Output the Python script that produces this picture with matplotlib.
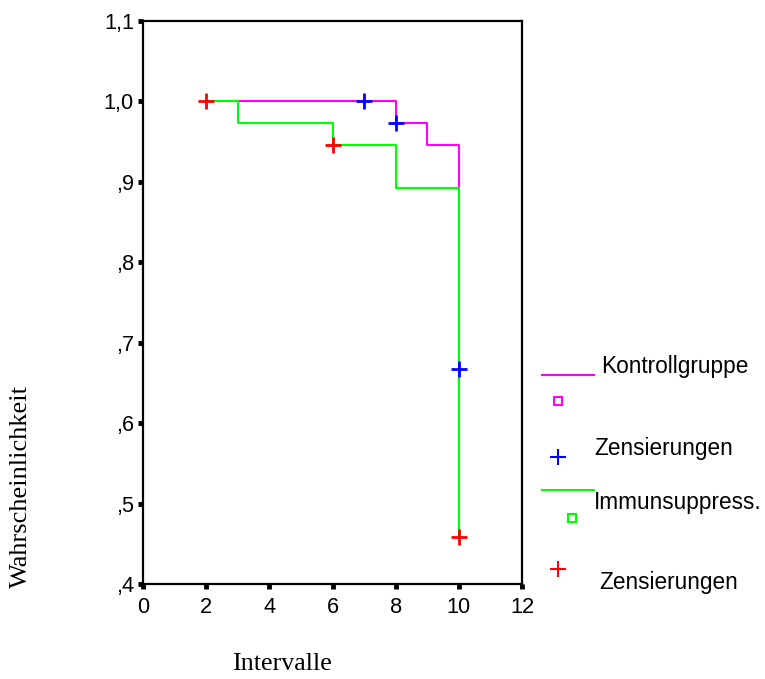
import matplotlib
matplotlib.use("Agg")
import matplotlib.pyplot as plt
from matplotlib.lines import Line2D

# Data
kontroll_times = [2, 8, 9, 10]
kontroll_surv = [1.0, 0.973, 0.946, 0.667]
kontroll_cens_t = [7, 8, 10]
kontroll_cens_s = [1.0, 0.973, 0.667]

immun_times = [2, 3, 6, 8, 10]
immun_surv = [1.0, 0.973, 0.946, 0.892, 0.459]
immun_cens_t = [2, 6, 10]
immun_cens_s = [1.0, 0.946, 0.459]

xticks = [0, 2, 4, 6, 8, 10, 12]
yticks = [0.4, 0.5, 0.6, 0.7, 0.8, 0.9, 1.0, 1.1]
ytick_labels = [",4", ",5", ",6", ",7", ",8", ",9", "1,0", "1,1"]

legend_labels = ["Kontrollgruppe", "Zensierungen", "Immunsuppress.", "Zensierungen"]

W, H = 765, 679
fig = plt.figure(figsize=(W / 100, H / 100), dpi=100)
ax = fig.add_axes([143 / W, 1 - 584 / H, (522 - 143) / W, (584 - 21) / H])

ax.step(kontroll_times, kontroll_surv, where="post", color="#FF00FF", lw=1.5, zorder=2)
ax.step(immun_times, immun_surv, where="post", color="#00FF00", lw=1.5, zorder=3)
ax.plot(kontroll_cens_t, kontroll_cens_s, ls="none", marker="+", ms=12, mew=2,
        color="#0000FF", zorder=4)
ax.plot(immun_cens_t, immun_cens_s, ls="none", marker="+", ms=12, mew=2,
        color="#FF0000", zorder=5)

ax.set_xlim(0, 12)
ax.set_ylim(0.4, 1.1)
ax.set_xticks(xticks)
ax.set_xticklabels([str(t) for t in xticks])
ax.set_yticks(yticks)
ax.set_yticklabels(ytick_labels)
for s in ax.spines.values():
    s.set_linewidth(1.6)
ax.tick_params(axis="both", direction="out", length=3.5, width=3.5, color="black",
               labelsize=15.7)
ax.tick_params(axis="y", pad=3)
ax.tick_params(axis="x", pad=6)
for lab in ax.get_xticklabels() + ax.get_yticklabels():
    lab.set_family("Liberation Sans")

fig.text(21 / W, 1 - 487 / H, "Wahrscheinlichkeit", rotation=90, ha="center",
         va="center", family="Liberation Serif", fontsize=19)
fig.text(282 / W, 1 - 664 / H, "Intervalle", ha="center", va="center",
         family="Liberation Serif", fontsize=18.7)

# Legend drawn manually
def fx(x):
    return x / W

def fy(y):
    return 1 - y / H

fig.add_artist(Line2D([fx(542), fx(594)], [fy(375), fy(375)], color="#FF00FF", lw=1.5))
fig.add_artist(Line2D([fx(558)], [fy(401)], marker="s", ms=6, mfc="none", mec="#FF00FF",
                      mew=1.5, ls="none"))
fig.add_artist(Line2D([fx(558)], [fy(457)], marker="+", ms=11, mew=1.5, color="#0000FF",
                      ls="none"))
fig.add_artist(Line2D([fx(542), fx(594)], [fy(490), fy(490)], color="#00FF00", lw=1.5))
fig.add_artist(Line2D([fx(572)], [fy(518)], marker="s", ms=6, mfc="none", mec="#00FF00",
                      mew=1.5, ls="none"))
fig.add_artist(Line2D([fx(558)], [fy(569)], marker="+", ms=11, mew=1.5, color="#FF0000",
                      ls="none"))

lx = [601, 594, 594, 599]
ly = [367, 448, 502, 583]
for x, y, t in zip(lx, ly, legend_labels):
    fig.text(fx(x), fy(y), t, ha="left", va="center", family="Liberation Sans",
             fontsize=16.3)

fig.savefig("out.png", dpi=100)
